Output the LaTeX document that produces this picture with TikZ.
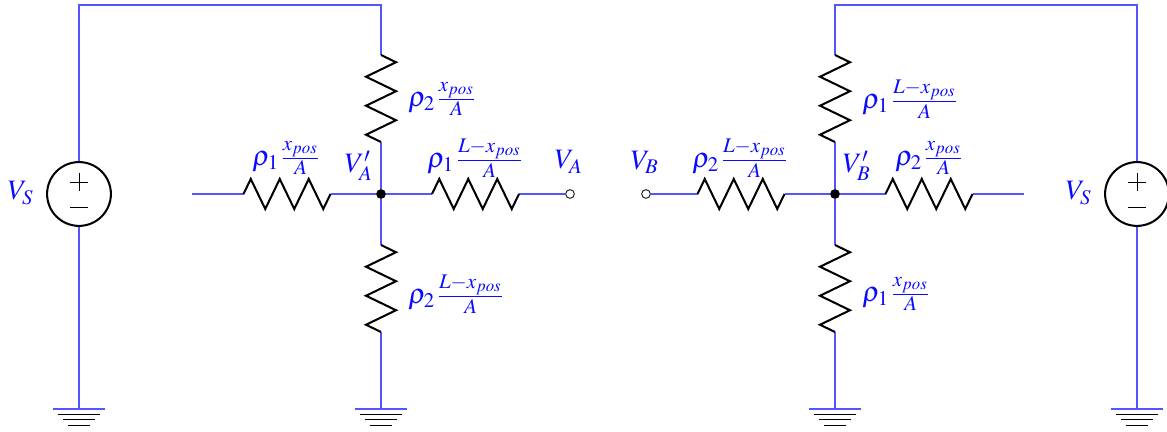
\documentclass[tikz,border=0pt]{standalone}
\usepackage{amsmath,amssymb}
\usepackage{mathptmx}
\usetikzlibrary{positioning}
\definecolor{wireblue}{RGB}{85,85,255}
\definecolor{textblue}{RGB}{10,10,255}
\tikzset{
wire/.style={draw=wireblue, line width=0.38pt},
resline/.style={draw=black, line width=0.75pt},
lbl/.style={text=textblue, inner sep=0pt, scale=1.04},
dot/.style={shape=circle, fill=black, inner sep=0pt, minimum size=3.6pt},
opendot/.style={shape=circle, draw=black, fill=white, line width=0.3pt, inner sep=0pt, minimum size=3.2pt},
srcbody/.style={shape=circle, draw=black, line width=0.75pt, inner sep=0pt, minimum size=23.6pt},
pics/zigzag/.style={code={
    \draw[resline] (0,0) -- (7.25,-15) -- (21.75,15) -- (36.25,-15) -- (50.75,15) -- (65.25,-15) -- (79.75,15) -- (87,0);
}},
pics/gnd/.style={code={
    \draw[wire] (-26,0) -- (26,0);
    \draw[line width=0.3pt] (-21,5) -- (21,5);
    \draw[line width=0.3pt] (-16,10) -- (16,10);
    \draw[line width=0.3pt] (-11,16) -- (11,16);
}},
pics/plusminus/.style={code={
    \draw[line width=0.3pt] (-9,-12) -- (9,-12);
    \draw[line width=0.3pt] (0,-21) -- (0,-3);
    \draw[line width=0.3pt] (-9,13) -- (9,13);
}}
}
\begin{document}
\begin{tikzpicture}[x=0.13mm, y=-0.13mm]
    \useasboundingbox (0,0) rectangle (1167,432);

    % left half
    \node[srcbody] (S1) at (79,194) {};
    \pic at (S1) {plusminus};
    \node[dot] (N1) at (381,194) {};
    \node[opendot] (VA) at (570,194) {};
    \coordinate (T1) at (79,5);
    \coordinate (T2) at (381,5);
    \coordinate (W1) at (192,194);
    \coordinate (Ra) at (243.5,194);
    \coordinate (Rb) at (330.5,194);
    \coordinate (Rc) at (432,194);
    \coordinate (Rd) at (519,194);
    \coordinate (Re) at (381,55);
    \coordinate (Rf) at (381,142);
    \coordinate (Rg) at (381,245);
    \coordinate (Rh) at (381,332);
    \coordinate (G1) at (79,409);
    \coordinate (G2) at (381,409);

    \draw[wire] (S1) -- (T1) -- (T2) -- (Re);
    \draw[wire] (Rf) -- (N1);
    \draw[wire] (N1) -- (Rg);
    \draw[wire] (Rh) -- (G2);
    \draw[wire] (S1) -- (G1);
    \draw[wire] (W1) -- (Ra);
    \draw[wire] (Rb) -- (N1);
    \draw[wire] (N1) -- (Rc);
    \draw[wire] (Rd) -- (VA);
    \pic at (Ra) {zigzag};
    \pic at (Rc) {zigzag};
    \pic[rotate=-90] at (Re) {zigzag};
    \pic[rotate=-90] at (Rg) {zigzag};
    \pic at (G1) {gnd};
    \pic at (G2) {gnd};

    \node[lbl] (LS1) at (21,193) {$V_S$};
    \node[lbl] (L1) at (287,158) {$\rho_1\frac{x_{pos}}{A}$};
    \node[lbl] (L2) at (443,99) {$\rho_2\frac{x_{pos}}{A}$};
    \node[lbl] (L3) at (476,158) {$\rho_1\frac{L-x_{pos}}{A}$};
    \node[lbl] (L4) at (457,294) {$\rho_2\frac{L-x_{pos}}{A}$};
    \node[lbl] (LN1) at (359,166) {$V_A'$};
    \node[lbl] (LA) at (569,162) {$V_A$};

    % right half
    \node[srcbody] (S2) at (1137,194) {};
    \pic at (S2) {plusminus};
    \node[dot] (N2) at (835,194) {};
    \node[opendot] (VB) at (646,194) {};
    \coordinate (T3) at (835,5);
    \coordinate (T4) at (1137,5);
    \coordinate (W2) at (1024,194);
    \coordinate (Ri) at (697.5,194);
    \coordinate (Rj) at (784.5,194);
    \coordinate (Rk) at (885.5,194);
    \coordinate (Rl) at (972.5,194);
    \coordinate (Rm) at (835,55);
    \coordinate (Rn) at (835,142);
    \coordinate (Ro) at (835,245);
    \coordinate (Rp) at (835,332);
    \coordinate (G3) at (835,409);
    \coordinate (G4) at (1137,409);

    \draw[wire] (S2) -- (T4) -- (T3) -- (Rm);
    \draw[wire] (Rn) -- (N2);
    \draw[wire] (N2) -- (Ro);
    \draw[wire] (Rp) -- (G3);
    \draw[wire] (S2) -- (G4);
    \draw[wire] (VB) -- (Ri);
    \draw[wire] (Rj) -- (N2);
    \draw[wire] (N2) -- (Rk);
    \draw[wire] (Rl) -- (W2);
    \pic at (Ri) {zigzag};
    \pic at (Rk) {zigzag};
    \pic[rotate=-90] at (Rm) {zigzag};
    \pic[rotate=-90] at (Ro) {zigzag};
    \pic at (G3) {gnd};
    \pic at (G4) {gnd};

    \node[lbl] (LS2) at (1079,193) {$V_S$};
    \node[lbl] (L5) at (741,158) {$\rho_2\frac{L-x_{pos}}{A}$};
    \node[lbl] (L6) at (911,99) {$\rho_1\frac{L-x_{pos}}{A}$};
    \node[lbl] (L7) at (930,158) {$\rho_2\frac{x_{pos}}{A}$};
    \node[lbl] (L8) at (897,294) {$\rho_1\frac{x_{pos}}{A}$};
    \node[lbl] (LN2) at (857,166) {$V_B'$};
    \node[lbl] (LB) at (645,162) {$V_B$};

\end{tikzpicture}
\end{document}
